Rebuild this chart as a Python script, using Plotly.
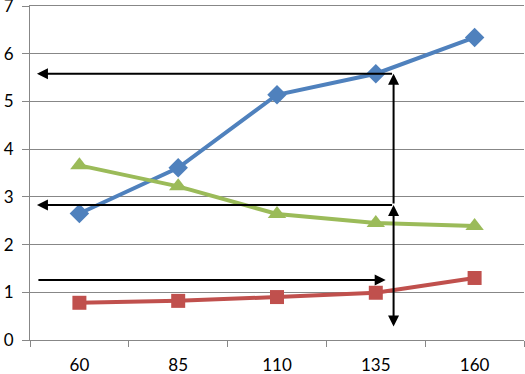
import plotly.graph_objects as go

categories = ["60", "85", "110", "135", "160"]
blue_values = [2.65, 3.61, 5.14, 5.58, 6.34]
red_values = [0.78, 0.82, 0.90, 0.99, 1.30]
green_values = [3.66, 3.22, 2.64, 2.45, 2.39]
y_ticks = [0, 1, 2, 3, 4, 5, 6, 7]

# arrow annotations (in data coordinates: category index, value)
arrow_x = 3.18
arrow_left_x = -0.43
arrow_right_x = 3.10
level_top = 5.58
level_mid = 2.83
level_low = 1.26
level_bottom = 0.25

BLUE = "#4F81BD"
RED = "#C0504D"
GREEN = "#9BBB59"
GRID = "#878787"
FONT = "Lato"

fig = go.Figure()
for vals, col, sym, size in [
    (blue_values, BLUE, "diamond", 15),
    (green_values, GREEN, "triangle-up", 16),
    (red_values, RED, "square", 14),
]:
    fig.add_trace(go.Scatter(
        x=categories, y=vals, mode="lines+markers",
        line=dict(color=col, width=4),
        marker=dict(symbol=sym, size=size, color=col),
        showlegend=False, cliponaxis=False,
    ))

arrow_common = dict(xref="x", yref="y", axref="x", ayref="y", showarrow=True,
                    arrowhead=2, arrowsize=1.1, arrowwidth=2, arrowcolor="black", text="")
annotations = [
    dict(x=arrow_left_x, y=level_top, ax=arrow_x, ay=level_top, **arrow_common),
    dict(x=arrow_left_x, y=level_mid, ax=arrow_x, ay=level_mid, **arrow_common),
    dict(x=arrow_right_x, y=level_low, ax=arrow_left_x, ay=level_low, **arrow_common),
    dict(x=arrow_x, y=level_top, ax=arrow_x, ay=level_mid, **arrow_common),
    dict(x=arrow_x, y=level_mid, ax=arrow_x, ay=level_bottom, arrowside="end+start", **arrow_common),
]

fig.update_layout(
    width=525, height=374,
    margin=dict(l=30, r=1, t=6, b=34),
    paper_bgcolor="white", plot_bgcolor="white",
    font=dict(family=FONT, size=17, color="black"),
    annotations=annotations,
    xaxis=dict(
        type="category", categoryorder="array", categoryarray=categories,
        range=[-0.5, 4.5], tickson="boundaries", ticks="outside", ticklen=6,
        tickcolor=GRID, showgrid=False, showline=True, linecolor=GRID, linewidth=1,
        mirror=True, ticklabelstandoff=10, zeroline=False, automargin=False,
    ),
    yaxis=dict(
        range=[0, 7], tickvals=y_ticks, ticks="outside", ticklen=7, tickcolor=GRID,
        showgrid=True, gridcolor=GRID, gridwidth=1, showline=True, linecolor=GRID,
        zeroline=False, ticklabelstandoff=5, automargin=False,
        ticklabeloverflow="allow",
    ),
)

fig.write_html(
    "out.html",
    config={"displayModeBar": False},
    post_script="document.body.style.margin='0';document.body.style.padding='0';",
)
